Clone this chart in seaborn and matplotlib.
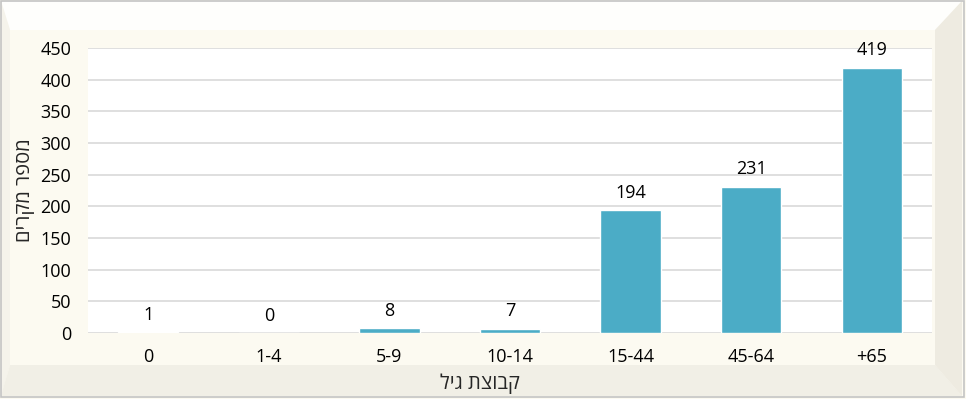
import matplotlib
matplotlib.use("Agg")
import matplotlib.pyplot as plt
import seaborn as sns
import pandas as pd
from matplotlib.patches import Polygon, Rectangle

# data
age_groups = ["0", "1-4", "5-9", "10-14", "15-44", "45-64", "+65"]
cases = [1, 0, 8, 7, 194, 231, 419]
y_ticks = [0, 50, 100, 150, 200, 250, 300, 350, 400, 450]

x_title = "קבוצת גיל"
y_title = "מספר מקרים"


def visual(s):
    # matplotlib has no bidi support, so lay hebrew out right to left by hand
    return s[::-1]


sns.set_style("white")
plt.rcParams["font.family"] = ["Open Sans", "DejaVu Sans"]

df = pd.DataFrame({"group": age_groups, "cases": cases})

W, H = 966, 399
fig = plt.figure(figsize=(W / 100, H / 100), dpi=100)
fig.patch.set_facecolor("#FCFAF1")


def fx(px):
    return px / W


def fy(py):
    return 1 - py / H


# beveled frame around the chart
def poly(pts, color):
    fig.patches.append(Polygon([(fx(a), fy(b)) for a, b in pts], closed=True,
                               transform=fig.transFigure, facecolor=color,
                               edgecolor="none", zorder=0))


poly([(1, 1), (962, 1), (935, 30), (10, 30)], "#FEFEFC")
poly([(1, 1), (10, 30), (10, 365), (1, 396)], "#F5F3EB")
poly([(1, 396), (10, 365), (935, 365), (962, 396)], "#F1EFE6")
poly([(962, 1), (962, 396), (935, 365), (935, 30)], "#EEEBE1")
fig.patches.append(Rectangle((fx(1), fy(397)), fx(963), fy(1) - fy(397),
                             transform=fig.transFigure, fill=False,
                             edgecolor="#C4C4C4", linewidth=1.2, zorder=1))

ax = fig.add_axes([fx(88), fy(333), fx(932) - fx(88), fy(48) - fy(333)])
ax.set_zorder(3)
ax.set_facecolor("white")

sns.barplot(data=df, x="group", y="cases", color="#4BACC6", saturation=1,
            width=0.5, ax=ax, zorder=3)

ax.bar_label(ax.containers[0], padding=6, fontsize=13, color="#000000")

ax.set_ylim(0, 450)
ax.set_xlim(-0.5, len(age_groups) - 0.5)
ax.set_yticks(y_ticks)
ax.yaxis.grid(True, color="#D9D9D9", linewidth=1.2, zorder=0)
ax.set_axisbelow(True)
for sp in ax.spines.values():
    sp.set_visible(False)
ax.tick_params(axis="both", length=0, labelsize=13, colors="#000000")
ax.tick_params(axis="y", pad=12)
ax.tick_params(axis="x", pad=11)

ax.set_xlabel(visual(x_title), fontsize=14.5)
ax.xaxis.label.set_va("center")
ax.xaxis.set_label_coords((480 - 88) / 844, (333 - 384) / 285)
ax.set_ylabel(visual(y_title), fontsize=14.5)
ax.yaxis.label.set_va("center")
ax.yaxis.set_label_coords((25 - 88) / 844, 0.5)

fig.savefig("out.png", dpi=100, facecolor=fig.get_facecolor())
